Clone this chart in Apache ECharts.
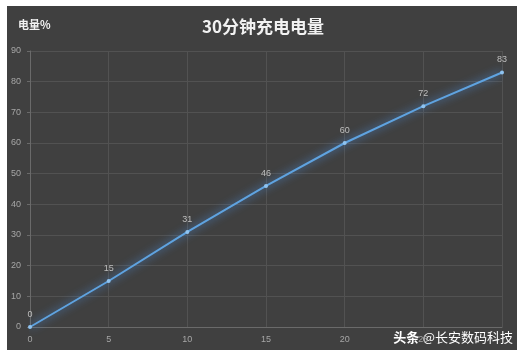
<!DOCTYPE html>
<html><head><meta charset="utf-8">
<script src="https://cdn.jsdelivr.net/npm/echarts@6/dist/echarts.min.js"></script>
<style>html,body{margin:0;padding:0;background:#fff;}#c{width:526px;height:356px;}</style>
</head><body><div id="c"></div>
<script>
const minutes = [0, 5, 10, 15, 20, 25, 30];
const charge = [0, 15, 31, 46, 60, 72, 83];
const xTicks = [0, 5, 10, 15, 20, 25];
const yTicks = [0, 10, 20, 30, 40, 50, 60, 70, 80, 90];

const chart = echarts.init(document.getElementById('c'));
chart.setOption({
  backgroundColor: '#ffffff',
  animation: false,
  graphic: [
    {type: 'rect', z: -10, shape: {x: 7, y: 6, width: 510, height: 344}, style: {fill: '#404040'}},
    {type: 'text', left: 18, top: 19, style: {text: '电量%', fill: '#f2f2f2', font: 'bold 11px "Noto Sans CJK SC"'}},
    {type: 'text', right: 13, top: 331, style: {
      text: '{b|头条} {n|@长安数码科技}',
      rich: {
        b: {fill: '#ffffff', fontSize: 13, fontWeight: 'bold', fontFamily: 'Noto Sans CJK SC'},
        n: {fill: '#ffffff', fontSize: 13, fontFamily: 'Noto Sans CJK SC'}
      }
    }}
  ],
  title: {
    text: '30分钟充电电量', left: 'center', top: 13,
    textStyle: {color: '#f2f2f2', fontSize: 17, fontWeight: 'bold', fontFamily: 'Noto Sans CJK SC'}
  },
  grid: {left: 30, right: 24, top: 51, bottom: 29},
  xAxis: {
    type: 'value', min: 0, max: 30, interval: 5,
    axisLine: {show: true, lineStyle: {color: '#6a6a6a'}},
    axisTick: {show: false},
    splitLine: {show: true, lineStyle: {color: '#525252'}},
    axisLabel: {color: '#a6a6a6', fontSize: 9, margin: 8,
      formatter: v => xTicks.includes(v) ? String(v) : ''}
  },
  yAxis: {
    type: 'value', min: 0, max: 90, interval: 10,
    axisLine: {show: true, lineStyle: {color: '#6a6a6a'}},
    axisTick: {show: true, length: 3, lineStyle: {color: '#6a6a6a'}},
    splitLine: {show: true, lineStyle: {color: '#525252'}},
    axisLabel: {color: '#a6a6a6', fontSize: 9, margin: 9,
      formatter: v => yTicks.includes(v) ? String(v) : ''}
  },
  series: [{
    type: 'line',
    data: minutes.map((m, i) => [m, charge[i]]),
    symbol: 'circle', symbolSize: 4,
    itemStyle: {color: '#8fc3f0'},
    lineStyle: {color: '#5fa3e0', width: 2, shadowColor: 'rgba(80,160,255,0.9)', shadowBlur: 8},
    label: {show: true, position: 'top', distance: 6, color: '#bfbfbf', fontSize: 9},
    clip: false
  }]
});
</script></body></html>
